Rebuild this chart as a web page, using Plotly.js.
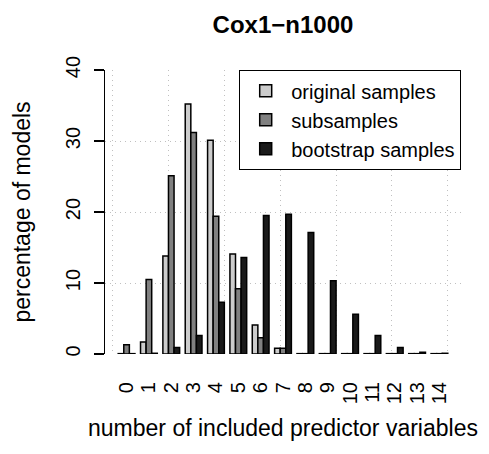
<!DOCTYPE html>
<html>
<head>
<meta charset="utf-8">
<script src="https://cdn.plot.ly/plotly-3.0.1.min.js"></script>
<style>
html, body { margin: 0; padding: 0; background: #ffffff; }
#chart { width: 489px; height: 454px; }
</style>
</head>
<body>
<div id="chart"></div>
<script>
// number of included predictor variables
var categories = [0, 1, 2, 3, 4, 5, 6, 7, 8, 9, 10, 11, 12, 13, 14];
var tickLabels = ["0", "1", "2", "3", "4", "5", "6", "7", "8", "9", "10", "11", "12", "13", "14"];
// percentage of models
var originalSamples = [0.05, 1.7, 13.8, 35.2, 30.1, 14.1, 4.1, 0.8, 0.05, 0.05, 0.05, 0.05, 0.05, 0.05, 0.05];
var subSamples      = [1.3, 10.5, 25.1, 31.2, 19.4, 9.2, 2.3, 0.8, 0.05, 0.05, 0.05, 0.05, 0.05, 0.05, 0.05];
var bootSamples     = [0.05, 0.1, 0.9, 2.6, 7.3, 13.6, 19.5, 19.7, 17.1, 10.3, 5.6, 2.6, 0.9, 0.25, 0.1];
var seriesNames = ["original samples", "subsamples", "bootstrap samples"];
var seriesColors = ["#cccccc", "#808080", "#1a1a1a"];

var FONT = "Liberation Sans, Arial, Helvetica, sans-serif";
var seriesData = [originalSamples, subSamples, bootSamples];

var traces = seriesData.map(function (vals, i) {
  return {
    type: "bar",
    name: seriesNames[i],
    x: categories,
    y: vals,
    marker: { color: seriesColors[i], line: { color: "#000000", width: 1.5 } },
    hoverinfo: "x+y+name"
  };
});
// helper trace for the R-style grid axis (no marks)
traces.push({ type: "scatter", mode: "markers", x: [], y: [], xaxis: "x2", yaxis: "y", showlegend: false, hoverinfo: "skip" });

// R barplot geometry: each group = 3 bars + 1 space; grid in bar-unit space
var lo = categories[0] - 0.965, hi = categories[categories.length - 1] + 0.965;

var layout = {
  width: 489,
  height: 454,
  margin: { l: 105, r: 28, t: 70, b: 100, pad: 0 },
  paper_bgcolor: "#ffffff",
  plot_bgcolor: "#ffffff",
  font: { family: FONT, color: "#000000", size: 20 },
  showlegend: true,
  barmode: "group",
  bargap: 0.25,
  bargroupgap: 0,
  title: {
    text: "<b>Cox1\u2212n1000</b>",
    font: { family: FONT, size: 24, color: "#000000" },
    x: 0.5, xref: "paper", xanchor: "center",
    y: 1 - 25 / 454, yref: "container", yanchor: "middle"
  },
  xaxis: {
    type: "linear",
    range: [lo, hi],
    tickmode: "array",
    tickvals: categories,
    ticktext: tickLabels,
    tickangle: -90,
    ticks: "outside",
    ticklen: 19,
    tickcolor: "rgba(0,0,0,0)",
    showgrid: false,
    zeroline: false,
    showline: false,
    tickfont: { family: FONT, size: 20, color: "#000000" },
    title: { text: "number of included predictor variables", font: { family: FONT, size: 23, color: "#000000" }, standoff: 16 },
    fixedrange: true
  },
  xaxis2: {
    overlaying: "x",
    type: "linear",
    range: [4 * lo + 2.5, 4 * hi + 2.5],
    tick0: 0,
    dtick: 10,
    showticklabels: false,
    ticks: "",
    showgrid: true,
    gridcolor: "#c0c0c0",
    griddash: "1px,4px",
    gridwidth: 1,
    zeroline: false,
    showline: false,
    layer: "below traces"
  },
  yaxis: {
    range: [0, 40],
    tick0: 0,
    dtick: 10,
    tickangle: -90,
    ticks: "outside",
    ticklen: 10,
    tickwidth: 1.2,
    tickcolor: "#000000",
    ticklabelstandoff: 6,
    showline: true,
    linecolor: "#000000",
    linewidth: 1.2,
    showgrid: true,
    gridcolor: "#c0c0c0",
    griddash: "1px,4px",
    gridwidth: 1,
    zeroline: false,
    tickfont: { family: FONT, size: 20, color: "#000000" },
    title: { text: "percentage of models", font: { family: FONT, size: 23, color: "#000000" }, standoff: 24 },
    fixedrange: true
  },
  legend: {
    x: 1, xanchor: "right", xref: "paper",
    y: 1, yanchor: "top", yref: "paper",
    bgcolor: "#ffffff",
    bordercolor: "#000000",
    borderwidth: 1.2,
    font: { family: FONT, size: 20, color: "#000000" },
    itemwidth: 41,
    traceorder: "normal"
  }
};

Plotly.newPlot("chart", traces, layout, { staticPlot: true, displayModeBar: false });
</script>
</body>
</html>
